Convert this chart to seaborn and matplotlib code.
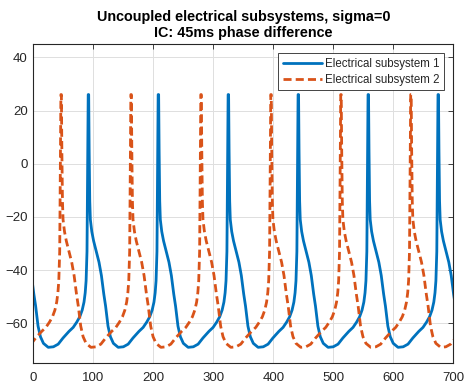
import numpy as np
import pandas as pd
import matplotlib
matplotlib.use("Agg")
import matplotlib.pyplot as plt
import seaborn as sns

title_lines = ["Uncoupled electrical subsystems, sigma=0", "IC: 45ms phase difference"]
series_names = ["Electrical subsystem 1", "Electrical subsystem 2"]

# spike peak times (ms); the first one of each list lies left of the axis
peaks_1 = [-25.1, 91.5, 208.1, 324.7, 441.3, 557.9, 674.5]
peaks_2 = [-70.6, 46.0, 162.6, 279.2, 395.8, 512.4, 629.0]

# one spike cycle: time after the peak (ms) and value
cycle_dt = [0, 0.8, 1.6, 2.6, 3.6, 6, 9, 14, 18, 22, 26, 29, 33, 37, 42, 50,
            58.6, 66.6, 74.6, 84.6, 91.6, 97.6, 102.6, 106.6, 109.6, 111.6,
            113.1, 114.6, 115.6]
cycle_v = [26, 26, 5, -14, -21, -25.5, -29, -33.5, -37, -42, -49, -53.5, -61,
           -65, -67.5, -69, -68.8, -67.8, -65.5, -63, -61.5, -59.5, -57.5, -55,
           -52, -48.5, -44, -33, -5]

x_ticks = [0, 100, 200, 300, 400, 500, 600, 700]
y_ticks = [-60, -40, -20, 0, 20, 40]
x_limits = (0, 700)
y_limits = (-75, 45)

colors = ["#0072BD", "#D95319"]


def build(peaks, name):
    t = np.concatenate([p + np.asarray(cycle_dt) for p in peaks])
    v = np.concatenate([np.asarray(cycle_v) for _ in peaks])
    return pd.DataFrame({"t": t, "v": v, "series": name})


df1 = build(peaks_1, series_names[0])
df2 = build(peaks_2, series_names[1])

sns.set_style("white")
plt.rcParams["font.family"] = ["Liberation Sans", "DejaVu Sans"]
plt.rcParams["lines.dashed_pattern"] = [2.9, 1.5]

fig = plt.figure(figsize=(4.65, 3.89), dpi=100)
ax = fig.add_axes([33.3 / 465, 1 - 363.3 / 389, (453.3 - 33.3) / 465, (363.3 - 44) / 389])

sns.lineplot(data=df1, x="t", y="v", ax=ax, color=colors[0], linewidth=2.0,
             estimator=None, sort=False, label=series_names[0])
sns.lineplot(data=df2, x="t", y="v", ax=ax, color=colors[1], linewidth=2.0,
             linestyle="--", estimator=None, sort=False, label=series_names[1])

ax.set_xlim(*x_limits)
ax.set_ylim(*y_limits)
ax.set_xticks(x_ticks)
ax.set_yticks(y_ticks)
ax.set_xlabel("")
ax.set_ylabel("")
ax.grid(True, color="#dfdfdf", linewidth=0.7)
ax.set_axisbelow(True)
for s in ax.spines.values():
    s.set_visible(True)
    s.set_color("#262626")
    s.set_linewidth(0.8)
ax.tick_params(direction="in", top=True, right=True, length=3.5, width=0.6,
               colors="#262626", labelsize=9.5)
ax.tick_params(axis="x", pad=6)
ax.tick_params(axis="y", pad=4)

ax.set_title("\n".join(title_lines), fontweight="bold", fontsize=10.4, pad=5,
             color="black")

leg = ax.legend(loc="upper right", fontsize=8.3, frameon=True, fancybox=False,
                framealpha=1, edgecolor="#262626", borderaxespad=0.8,
                handlelength=3.4, handletextpad=0.25, labelspacing=0.35,
                borderpad=0.4)
leg.get_frame().set_linewidth(0.6)

fig.savefig("out.png", dpi=100)
